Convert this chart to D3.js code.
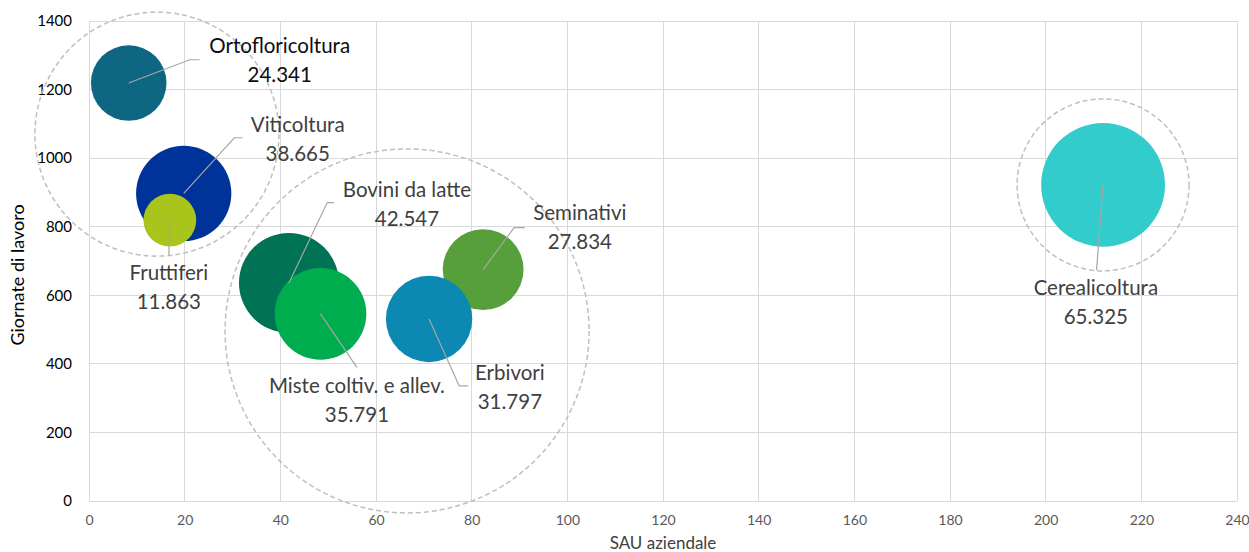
<!DOCTYPE html>
<html>
<head>
<meta charset="utf-8">
<script src="https://cdn.jsdelivr.net/npm/d3@7"></script>
<style>
  body { margin: 0; background: #fff; }
  svg text { font-family: Lato, "Open Sans", sans-serif; }
</style>
</head>
<body>
<div id="chart"></div>
<script>
// data
var names = ["Ortofloricoltura", "Viticoltura", "Fruttiferi", "Seminativi",
             "Bovini da latte", "Miste coltiv. e allev.", "Erbivori", "Cerealicoltura"]
var sau = [8.3, 19.8, 16.9, 82.4, 41.8, 48.4, 71.1, 212.0]
var giornate = [1219, 897, 819, 675, 636, 546, 531, 922]
var aziende = [24341, 38665, 11863, 27834, 42547, 35791, 31797, 65325]
var colors = ["#0e6683", "#003399", "#a9c41a", "#569f3b", "#007354", "#00ad4e", "#0b89b3", "#33cccc"]

var xTicks = [0, 20, 40, 60, 80, 100, 120, 140, 160, 180, 200, 220, 240]
var yTicks = [0, 200, 400, 600, 800, 1000, 1200, 1400]

// dashed group circles: centre in data units
var groupX = [14.2, 66.5, 212.0]
var groupY = [1070, 496, 922]

// label layout (pixel offsets from bubble centre)
var labelLayout = {
  "Ortofloricoltura":       { dx: 151, dy: -37, leader: [[61, -23.3], [71, -23.3]], dark: true },
  "Viticoltura":            { dx: 114, dy: -68, leader: [[50.6, -55.7], [59, -55.7]] },
  "Fruttiferi":             { dx: -1, dy: 53, leader: [[-1, 35]] },
  "Seminativi":             { dx: 96.7, dy: -56.3, leader: [[31, -42], [41.7, -42]] },
  "Bovini da latte":        { dx: 118, dy: -93.4, leader: [[38.3, -80.4], [45, -80.4]] },
  "Miste coltiv. e allev.": { dx: 36.4, dy: 72.3, leader: [[36.4, 53.6]] },
  "Erbivori":               { dx: 80.8, dy: 53.6, leader: [[30.1, 67], [39.1, 67]] },
  "Cerealicoltura":         { dx: -7.2, dy: 102.9, leader: [[-6.5, 85.2]] }
}
var groupR = [122, 182, 86]

var width = 1249, height = 552
var margin = { top: 21, left: 89, right: 12, bottom: 51 }

var it = d3.formatLocale({ decimal: ",", thousands: ".", grouping: [3], currency: ["€", ""] })
var fmt = it.format(",d")

var x = d3.scaleLinear().domain([0, 240]).range([margin.left, width - margin.right])
var y = d3.scaleLinear().domain([0, 1400]).range([height - margin.bottom, margin.top])
var r = d3.scaleSqrt().domain([0, 100000]).range([0, 76.6])

var svg = d3.select("#chart").append("svg")
  .attr("width", width)
  .attr("height", height)

// grid
svg.append("g")
  .selectAll("line")
  .data(xTicks)
  .enter().append("line")
  .attr("x1", d => x(d)).attr("x2", d => x(d))
  .attr("y1", y(0)).attr("y2", y(1400))
  .attr("stroke", "#d9d9d9").attr("stroke-width", 1)
  .attr("shape-rendering", "crispEdges")

svg.append("g")
  .selectAll("line")
  .data(yTicks)
  .enter().append("line")
  .attr("x1", x(0)).attr("x2", x(240))
  .attr("y1", d => y(d)).attr("y2", d => y(d))
  .attr("stroke", "#d9d9d9").attr("stroke-width", 1)
  .attr("shape-rendering", "crispEdges")

// axes (labels only)
var xAxis = svg.append("g")
  .attr("transform", "translate(0," + y(0) + ")")
  .call(d3.axisBottom(x).tickValues(xTicks).tickSize(0).tickPadding(14).tickFormat(d => d))
xAxis.select(".domain").remove()
xAxis.selectAll("text")
  .attr("fill", "#595959")
  .style("font-size", "14px")

var yAxis = svg.append("g")
  .attr("transform", "translate(" + x(0) + ",0)")
  .call(d3.axisLeft(y).tickValues(yTicks).tickSize(0).tickPadding(17).tickFormat(d => d))
yAxis.select(".domain").remove()
yAxis.selectAll("text")
  .attr("fill", "#000")
  .style("font-size", "15px")

// axis titles
svg.append("text")
  .attr("x", (x(0) + x(240)) / 2)
  .attr("y", 549)
  .attr("text-anchor", "middle")
  .attr("fill", "#404040")
  .style("font-size", "17px")
  .text("SAU aziendale")

svg.append("text")
  .attr("transform", "translate(24,275) rotate(-90)")
  .attr("text-anchor", "middle")
  .attr("fill", "#000")
  .style("font-size", "18px")
  .text("Giornate di lavoro")

var data = names.map(function(n, i) {
  return { name: n, x: sau[i], y: giornate[i], v: aziende[i], color: colors[i] }
})

// bubbles
svg.append("g")
  .selectAll("circle")
  .data(data)
  .enter().append("circle")
  .attr("cx", d => x(d.x))
  .attr("cy", d => y(d.y))
  .attr("r", d => r(d.v))
  .attr("fill", d => d.color)

// dashed group outlines
svg.append("g")
  .selectAll("circle")
  .data(groupX)
  .enter().append("circle")
  .attr("cx", d => x(d))
  .attr("cy", (d, i) => y(groupY[i]))
  .attr("r", (d, i) => groupR[i])
  .attr("fill", "none")
  .attr("stroke", "#bfbfbf")
  .attr("stroke-width", 1.5)
  .attr("stroke-dasharray", "5,3")

// leader lines
var line = d3.line()
svg.append("g")
  .selectAll("path")
  .data(data)
  .enter().append("path")
  .attr("d", function(d) {
    var cx = x(d.x), cy = y(d.y)
    var pts = [[cx, cy]].concat(labelLayout[d.name].leader.map(p => [cx + p[0], cy + p[1]]))
    return line(pts)
  })
  .attr("fill", "none")
  .attr("stroke", "#a6a6a6")
  .attr("stroke-width", 1.2)

// labels
var labels = svg.append("g")
  .selectAll("text")
  .data(data)
  .enter().append("text")
  .attr("text-anchor", "middle")
  .attr("fill", d => labelLayout[d.name].dark ? "#0d0d0d" : "#404040")
  .style("font-size", "20.5px")

labels.append("tspan")
  .attr("x", d => x(d.x) + labelLayout[d.name].dx)
  .attr("y", d => y(d.y) + labelLayout[d.name].dy + 7)
  .text(d => d.name)

labels.append("tspan")
  .attr("x", d => x(d.x) + labelLayout[d.name].dx)
  .attr("y", d => y(d.y) + labelLayout[d.name].dy + 36)
  .text(d => fmt(d.v))
</script>
</body>
</html>
